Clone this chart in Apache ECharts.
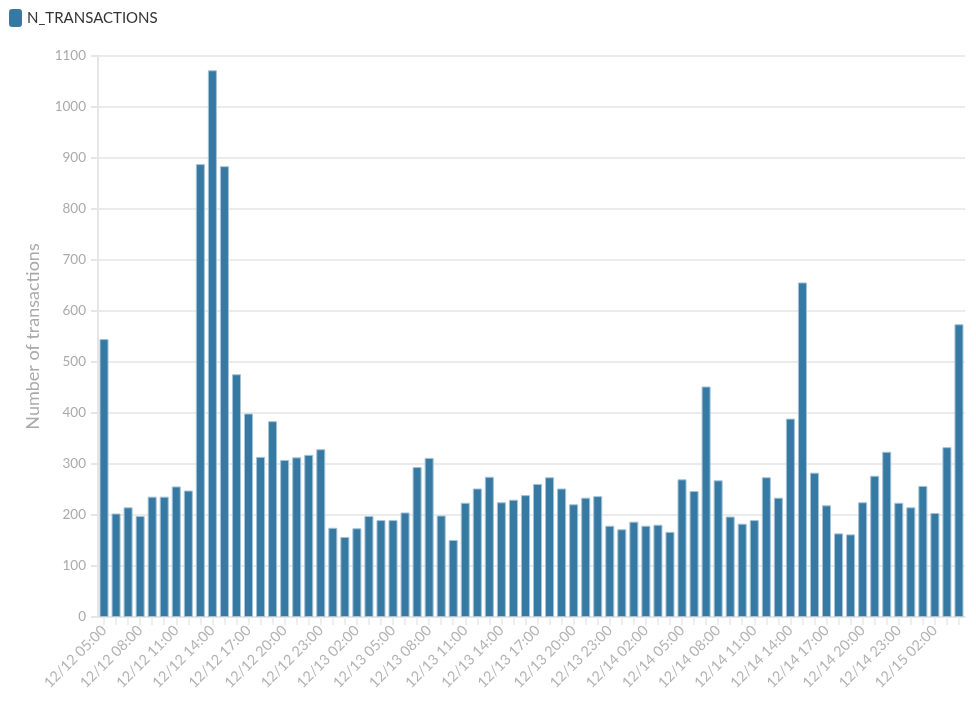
<!DOCTYPE html>
<html>
<head>
<meta charset="utf-8">
<script src="https://cdn.jsdelivr.net/npm/echarts@6/dist/echarts.min.js"></script>
<style>
  html, body { margin: 0; padding: 0; background: #fff; }
  #chart { width: 976px; height: 704px; }
</style>
</head>
<body>
<div id="chart"></div>
<script>
// hourly buckets, 12/12 05:00 -> 12/15 04:00
const days = ['12/12', '12/13', '12/14', '12/15']
const startHour = 5
const hourCount = 72

const nTransactions = [
  545, 203, 215, 198, 236, 236, 256, 248, 888, 1072, 884, 476,
  399, 314, 384, 308, 313, 318, 329, 175, 157, 174, 198, 190,
  190, 205, 294, 312, 199, 151, 224, 252, 275, 225, 230, 239,
  261, 274, 252, 221, 234, 237, 179, 172, 187, 179, 181, 167,
  270, 247, 452, 268, 197, 183, 190, 274, 234, 389, 656, 283,
  219, 164, 162, 225, 277, 324, 224, 215, 257, 204, 333, 574
]

const categories = []
for (let i = 0; i < hourCount; i++) {
  let h = startHour + i
  let d = Math.floor(h / 24)
  let hh = h % 24
  categories.push(days[d] + ' ' + (hh < 10 ? '0' : '') + hh + ':00')
}

let myChart = echarts.init(document.getElementById('chart'))
let font = 'Lato, "Open Sans", sans-serif'
let option = {
  animation: false,
  textStyle: { fontFamily: font },
  legend: {
    show: true,
    data: ['N_TRANSACTIONS'],
    left: 9,
    top: 9,
    padding: 0,
    icon: 'roundRect',
    itemWidth: 13,
    itemHeight: 18,
    itemStyle: { borderWidth: 0 },
    textStyle: { color: '#333', fontSize: 15, fontFamily: font }
  },
  grid: {
    left: 98,
    right: 11,
    top: 56,
    bottom: 87
  },
  xAxis: {
    type: 'category',
    data: categories,
    axisLine: { show: true, lineStyle: { color: '#e6e6e6', width: 2 } },
    axisTick: {
      show: true,
      alignWithLabel: true,
      interval: 0,
      length: 8,
      lineStyle: { color: '#eeeeee', width: 2 }
    },
    axisLabel: {
      interval: 2,
      rotate: 45,
      margin: 11,
      color: '#b3b3b3',
      fontSize: 14.5,
      fontFamily: font
    },
    splitLine: { show: false }
  },
  yAxis: {
    type: 'value',
    min: 0,
    max: 1100,
    interval: 100,
    name: 'Number of transactions',
    nameLocation: 'middle',
    nameGap: 56,
    nameTextStyle: { color: '#aaaaaa', fontSize: 18, fontFamily: font },
    axisLine: { show: true, lineStyle: { color: '#e6e6e6', width: 2 } },
    axisTick: { show: true, length: 7, lineStyle: { color: '#e6e6e6', width: 2 } },
    axisLabel: {
      color: '#aaaaaa',
      fontSize: 13.5,
      margin: 12,
      fontFamily: font,
      formatter: function (v) { return String(v) }
    },
    splitLine: { show: true, lineStyle: { color: '#ebebeb', width: 2 } }
  },
  series: [
    {
      name: 'N_TRANSACTIONS',
      type: 'bar',
      barCategoryGap: '25%',
      itemStyle: {
        color: '#3679a2',
        borderColor: '#a6c3d7',
        borderWidth: 1
      },
      data: nTransactions
    }
  ]
}
myChart.setOption(option, true)
</script>
</body>
</html>
